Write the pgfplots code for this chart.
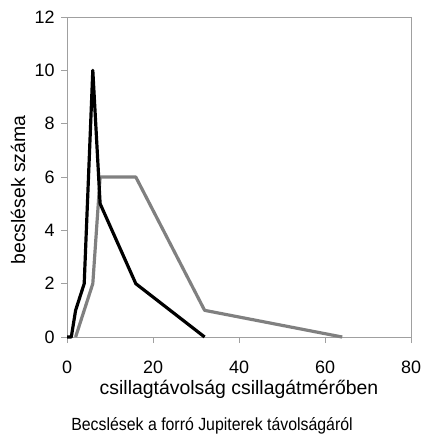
\documentclass[border=0pt]{standalone}
\usepackage{fontspec}
\setmainfont{Liberation Sans}
\usepackage{pgfplots}
\pgfplotsset{compat=1.18}
\definecolor{cAxis}{HTML}{A0A0A0}
\definecolor{cGray}{HTML}{808080}

\begin{document}
\begin{tikzpicture}[x=1bp,y=1bp]
  % page frame, same size as the reference
  \path[use as bounding box] (0,0) rectangle (423,-435);
  \begin{axis}[
      scale only axis,
      width=344bp, height=320bp,
      at={(67bp,-337bp)}, anchor=south west,
      xmin=0, xmax=80, ymin=0, ymax=12,
      xtick={0,20,40,60,80},
      ytick={0,2,4,6,8,10,12},
      axis line style={cAxis, line width=0.8pt},
      tick style={cAxis, line width=0.8pt},
      tick align=outside,
      major tick length=6bp,
      xtick pos=bottom, ytick pos=left,
      tick label style={font=\fontsize{18}{20}\selectfont},
      /pgf/number format/assume math mode=true,
      xticklabel style={anchor=base, yshift=-30bp},
      yticklabel style={xshift=-3bp},
      xlabel={csillagtávolság csillagátmérőben},
      label style={font=\fontsize{19.5}{21}\selectfont},
      xlabel style={at={(axis description cs:0.5,0)}, anchor=base, yshift=-57bp},
      clip=false,
    ]
    % gray series
    \addplot[cGray, line width=3.2pt, line join=round] coordinates {
      (2,0) (6,2) (7.7,6) (16,6) (32,1) (64,0)
    };
    % black series
    \addplot[black, line width=3.2pt, line join=round] coordinates {
      (0,0) (1,0) (2,1) (4,2) (6,10) (7.7,5) (16,2) (32,0)
    };
  \end{axis}
  \node[inner sep=0pt, font=\fontsize{19.5}{21}\selectfont] at (18,-190) {\rotatebox{90}{becslések száma}};
  \node[anchor=base, font=\fontsize{17.7}{19}\selectfont] at (212,-430)
    {\scalebox{0.9}[1]{Becslések a forró Jupiterek távolságáról}};
\end{tikzpicture}
\end{document}
